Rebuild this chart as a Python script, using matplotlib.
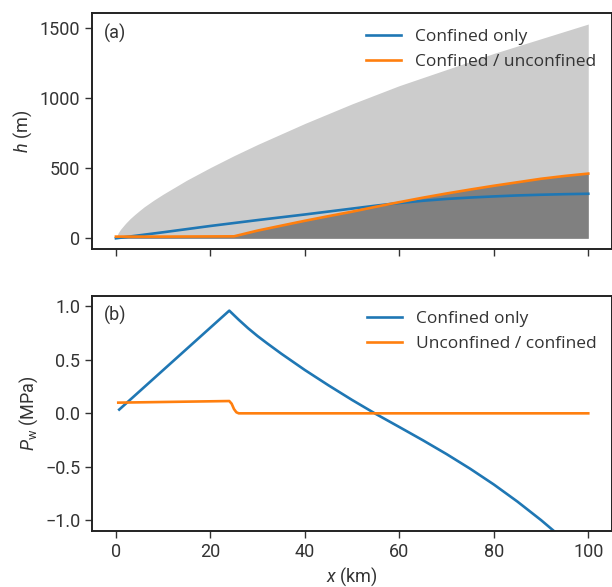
import numpy as np
import matplotlib
matplotlib.use("Agg")
import matplotlib.pyplot as plt

# ---- data ----
# (a) ice surface (light gray) and profiles h (m) vs x (km)
x_surf = [0, 0.5, 1, 2, 3, 4, 5, 6, 8, 10, 12, 15, 20, 25, 30, 35, 40, 45, 50, 55, 60, 70, 80, 90, 100]
h_surf = [0, 40, 65, 105, 140, 170, 198, 225, 272, 315, 355, 415, 505, 590, 670, 745, 820, 890, 960,
          1025, 1090, 1205, 1320, 1425, 1530]

x_conf = [0, 10, 20, 30, 40, 45, 50, 55, 60, 65, 70, 75, 80, 85, 90, 95, 100]
h_conf = [0, 43, 88, 130, 170, 191, 212, 233, 252, 268, 281, 291, 299, 306, 311, 315, 318]

x_unconf = [0, 10, 25, 30, 35, 40, 45, 50, 55, 60, 65, 70, 75, 80, 85, 90, 95, 100]
h_unconf = [12, 12, 14, 55, 90, 125, 158, 190, 225, 258, 290, 320, 348, 375, 400, 425, 445, 462]

# (b) water pressure Pw (MPa) vs x (km)
x_pw_conf = [0.7, 24, 26, 28, 30, 32, 35, 40, 45, 50, 55, 60, 65, 70, 75, 80, 85, 90, 95, 100]
pw_conf = [0.035, 0.96, 0.875, 0.795, 0.722, 0.655, 0.558, 0.405, 0.262, 0.125, -0.005,
           -0.128, -0.252, -0.381, -0.518, -0.665, -0.825, -0.998, -1.185, -1.385]

x_pw_unconf = [0.5, 24, 24.5, 25, 25.5, 26, 100]
pw_unconf = [0.10, 0.115, 0.09, 0.04, 0.01, 0.0, 0.0]

labels_a = ["Confined only", "Confined / unconfined"]
labels_b = ["Confined only", "Unconfined / confined"]

blue = "#1f77b4"
orange = "#ff7f0e"
text_c = "#333333"

plt.rcParams["font.family"] = ["Roboto", "DejaVu Sans"]
plt.rcParams["mathtext.fontset"] = "custom"
plt.rcParams["mathtext.it"] = "Roboto:italic"
plt.rcParams["mathtext.rm"] = "Roboto"
plt.rcParams["text.color"] = text_c
plt.rcParams["axes.labelcolor"] = text_c
plt.rcParams["xtick.color"] = text_c
plt.rcParams["ytick.color"] = text_c

fig = plt.figure(figsize=(6.12, 5.87), dpi=100)
ax1 = fig.add_axes([0.1508, 0.5758, 0.849, 0.4015])
ax2 = fig.add_axes([0.1508, 0.0954, 0.849, 0.4009])

# top panel
ax1.fill_between(x_surf, 0, h_surf, color="#cccccc", lw=0)
ax1.fill_between(x_unconf, 0, h_unconf, color="#808080", lw=0)
ax1.plot(x_conf, h_conf, c=blue, lw=1.9, label=labels_a[0])
ax1.plot(x_unconf, h_unconf, c=orange, lw=1.9, label=labels_a[1])
ax1.set_xlim(-5, 105)
ax1.set_ylim(-76.5, 1606.5)
ax1.set_yticks([0, 500, 1000, 1500])
ax1.set_xticks([0, 20, 40, 60, 80, 100])
ax1.set_xticklabels([])
ax1.set_ylabel(r"$h$ (m)", fontsize=13)
ax1.text(0.022, 0.955, "(a)", transform=ax1.transAxes, va="top", fontsize=13)
ax1.legend(loc="upper right", frameon=False,
           prop={"family": "Open Sans", "size": 12.5})

# bottom panel
ax2.plot(x_pw_conf, pw_conf, c=blue, lw=1.9, label=labels_b[0])
ax2.plot(x_pw_unconf, pw_unconf, c=orange, lw=1.9, label=labels_b[1])
ax2.set_xlim(-5, 105)
ax2.set_ylim(-1.1, 1.1)
ax2.set_yticks([-1.0, -0.5, 0.0, 0.5, 1.0])
ax2.set_xticks([0, 20, 40, 60, 80, 100])
ax2.set_ylabel(r"$P_\mathrm{w}$ (MPa)", fontsize=13)
ax2.set_xlabel(r"$x$ (km)", fontsize=13, labelpad=3)
ax2.text(0.022, 0.955, "(b)", transform=ax2.transAxes, va="top", fontsize=13)
ax2.legend(loc="upper right", frameon=False,
           prop={"family": "Open Sans", "size": 12.5})

for ax in (ax1, ax2):
    ax.tick_params(labelsize=13, length=5, width=1.0, direction="out")
    for s in ax.spines.values():
        s.set_linewidth(1.4)
        s.set_color("#222222")

fig.savefig("out.png", dpi=100)
